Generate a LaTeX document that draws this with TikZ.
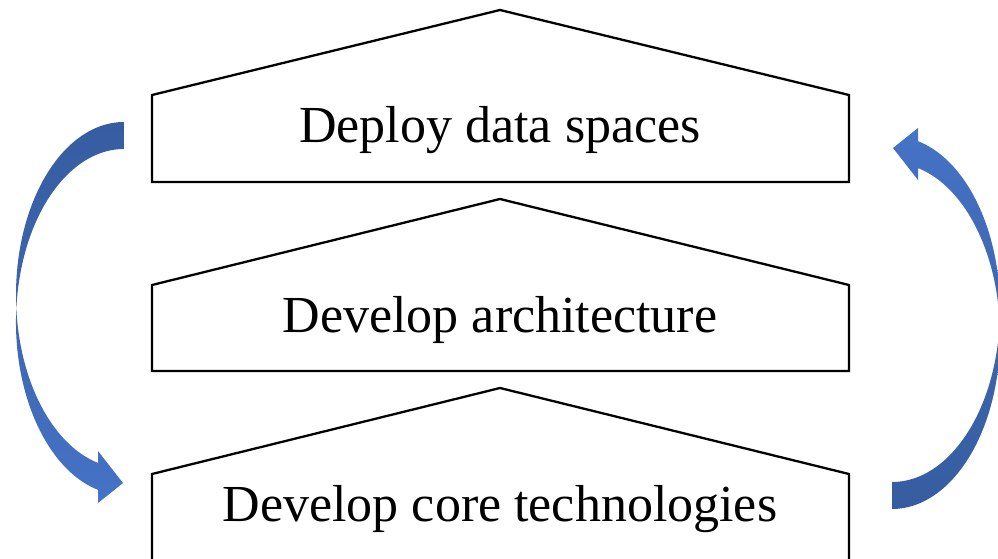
\documentclass[tikz,border=0pt]{standalone}
\usepackage{fontspec}
\setmainfont{Liberation Serif}
\definecolor{arrowdark}{RGB}{54,93,160}
\definecolor{arrowlight}{RGB}{69,115,198}
\tikzset{
  house/.style={draw=black, line width=2.3pt, fill=white, line join=miter},
  label/.style={anchor=base, inner sep=0pt, font=\fontsize{52}{60}\selectfont},
}
\begin{document}
\begin{tikzpicture}[x=1pt,y=1pt]
\useasboundingbox (0,0) rectangle (998,558);
\clip (0,0) rectangle (998,558);
% houses
\draw[house] (152,463) -- (500,548) -- (849,463) -- (849,376) -- (152,376) -- cycle;
\draw[house] (152,273) -- (500,359) -- (849,273) -- (849,187) -- (152,187) -- cycle;
\draw[house] (152,-10) -- (152,84) -- (500,170) -- (849,84) -- (849,-10);
% labels
\node[label] (deploy) at (500,415) {Deploy data spaces};
\node[label] (arch) at (500,226) {Develop architecture};
\node[label] (core) at (500,37) {Develop core technologies};
% left curved arrow
\shade[top color=arrowdark, bottom color=arrowlight, middle color=arrowdark!60!arrowlight]
  (124,436) arc[start angle=90, end angle=256.07, x radius=108pt, y radius=173pt]
  -- (98,107) -- (123,75) -- (98,55) -- (98,68.1)
  arc[start angle=256.07, end angle=90, x radius=108pt, y radius=173pt] -- cycle;
% right curved arrow
\shade[top color=arrowlight, bottom color=arrowdark, middle color=arrowdark!60!arrowlight]
  (892,49) arc[start angle=270, end angle=436.07, x radius=108pt, y radius=173pt]
  -- (918,378) -- (893,410) -- (918,430) -- (918,416.9)
  arc[start angle=436.07, end angle=270, x radius=108pt, y radius=173pt] -- cycle;
\end{tikzpicture}
\end{document}
